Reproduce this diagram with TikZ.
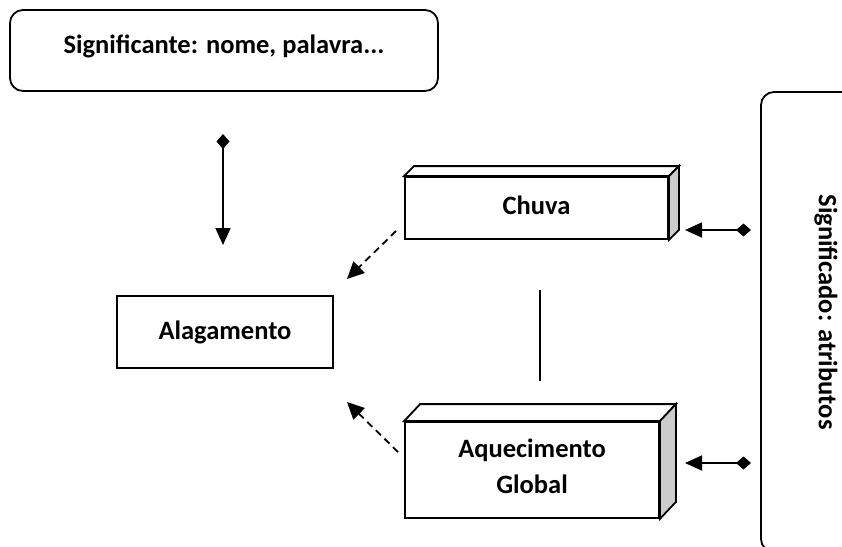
\documentclass[tikz,border=0pt]{standalone}
\usepackage{fontspec}
\setmainfont{Carlito}
\usetikzlibrary{arrows.meta}
\begin{document}
\begin{tikzpicture}[x=1pt,y=-1pt,
  lw/.style={line width=1.8pt},
  txt/.style={font=\fontsize{26.5}{36}\selectfont\bfseries, align=center},
  rbox/.style={draw, lw, rounded corners=13pt, txt, inner sep=0pt},
  pbox/.style={draw, lw, txt, inner sep=0pt, fill=white},
  sideface/.style={draw, lw, fill=black!20, line join=miter},
  topface/.style={draw, lw, fill=white, line join=miter},
  dconn/.style={lw, {Diamond[length=15pt,width=13pt]}-{Triangle[length=17pt,width=15pt]}},
  dashconn/.style={lw, dashed, dash pattern=on 7pt off 5pt, -{Triangle[length=17pt,width=16pt]}},
  plain/.style={lw}
]
\useasboundingbox (0,0) rectangle (842,546);

% Significante
\node[rbox, minimum width=428pt, minimum height=81pt] (sig) at (224,50.5) {\raisebox{4pt}[\height][\depth]{Significante: nome, palavra...}};

% Alagamento
\node[pbox, minimum width=216pt, minimum height=72pt] (ala) at (225,332) {Alagamento};

% Chuva (3D box)
\node[pbox, minimum width=263pt, minimum height=62pt] (chu) at (536.5,208) {\raisebox{3pt}[\height][\depth]{Chuva}};
\draw[topface] (chu.north west) -- ++(10,-10) -- ([shift={(10,-10)}]chu.north east) -- (chu.north east) -- cycle;
\draw[sideface] (chu.north east) -- ++(10,-10) -- ([shift={(10,-10)}]chu.south east) -- (chu.south east) -- cycle;

% Aquecimento Global (3D box)
\node[pbox, minimum width=254pt, minimum height=96pt] (aq) at (532,470) {\raisebox{4pt}[\height][\depth]{\parbox{250pt}{\centering Aquecimento\\Global}}};
\draw[topface] (aq.north west) -- ++(16,-17) -- ([shift={(16,-17)}]aq.north east) -- (aq.north east) -- cycle;
\draw[sideface] (aq.north east) -- ++(16,-17) -- ([shift={(16,-17)}]aq.south east) -- (aq.south east) -- cycle;

% Significado
\node[draw, lw, rounded corners=13pt, rotate=-90, minimum width=460pt, minimum height=130pt, txt, inner sep=0pt] (sdo) at (826,322) {Significado: atributos\hspace*{20pt}};

% connectors
\coordinate (v1) at (223,134);
\coordinate (v2) at (223,245);
\draw[dconn] (v1) -- (v2);

\coordinate (h1a) at (751,230);
\coordinate (h1b) at (685,230);
\draw[dconn] (h1a) -- (h1b);

\coordinate (h2a) at (751,463);
\coordinate (h2b) at (685,463);
\draw[dconn] (h2a) -- (h2b);

\coordinate (d1a) at (396,231);
\coordinate (d1b) at (347,279);
\draw[dashconn] (d1a) -- (d1b);

\coordinate (d2a) at (398,452);
\coordinate (d2b) at (347,402);
\draw[dashconn] (d2a) -- (d2b);

\coordinate (l1) at (540,290);
\coordinate (l2) at (540,381);
\draw[plain] (l1) -- (l2);
\end{tikzpicture}
\end{document}
